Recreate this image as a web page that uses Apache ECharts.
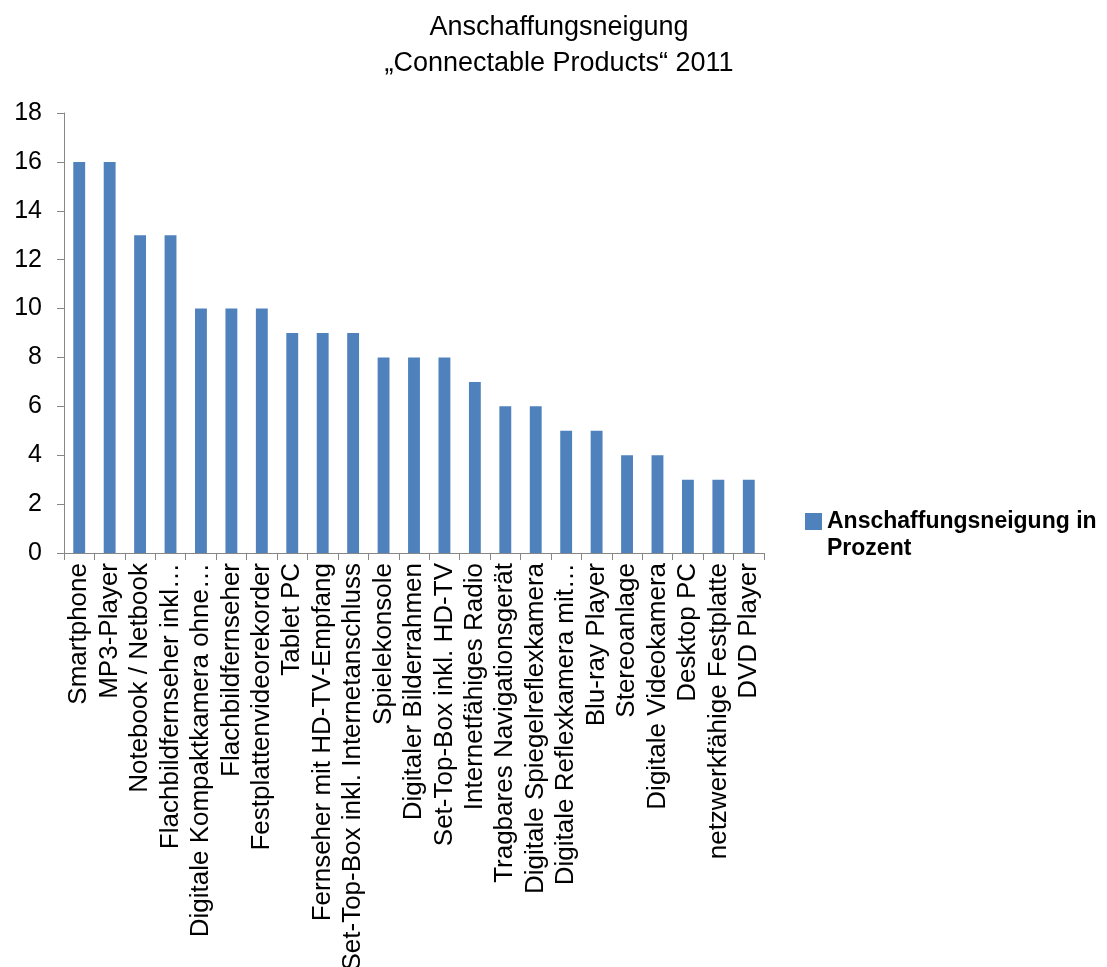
<!DOCTYPE html>
<html>
<head>
<meta charset="utf-8">
<script src="https://cdn.jsdelivr.net/npm/echarts@6/dist/echarts.min.js"></script>
<style>
  html, body { margin: 0; padding: 0; background: #ffffff; }
  #chart { width: 1107px; height: 967px; }
</style>
</head>
<body>
<div id="chart"></div>
<script>
// Product categories, in the order they are shown
const categories = [
  'Smartphone',
  'MP3-Player',
  'Notebook / Netbook',
  'Flachbildfernseher inkl…',
  'Digitale Kompaktkamera ohne…',
  'Flachbildfernseher',
  'Festplattenvideorekorder',
  'Tablet PC',
  'Fernseher mit HD-TV-Empfang',
  'Set-Top-Box inkl. Internetanschluss',
  'Spielekonsole',
  'Digitaler Bilderrahmen',
  'Set-Top-Box inkl. HD-TV',
  'Internetfähiges Radio',
  'Tragbares Navigationsgerät',
  'Digitale Spiegelreflexkamera',
  'Digitale Reflexkamera mit…',
  'Blu-ray Player',
  'Stereoanlage',
  'Digitale Videokamera',
  'Desktop PC',
  'netzwerkfähige Festplatte',
  'DVD Player'
];

// Purchase intention in percent
const anschaffungsneigung = [16, 16, 13, 13, 10, 10, 10, 9, 9, 9, 8, 8, 8, 7, 6, 6, 5, 5, 4, 4, 3, 3, 3];

// Value axis ticks
const yTicks = { min: 0, max: 18, interval: 2 };

const seriesName = 'Anschaffungsneigung in Prozent';
const titleLines = ['Anschaffungsneigung', '„Connectable Products“ 2011'];

const chart = echarts.init(document.getElementById('chart'), null, { renderer: 'canvas' });

const axisGrey = '#868686';
const labelFont = "'Liberation Sans', Arial, sans-serif";

chart.setOption({
  backgroundColor: '#ffffff',
  animation: false,
  title: {
    text: titleLines.join('\n'),
    left: 559,
    top: 10,
    padding: 0,
    textAlign: 'center',
    textStyle: {
      fontFamily: "'Liberation Sans Narrow', 'Liberation Sans', sans-serif",
      fontWeight: 'normal',
      fontSize: 27,
      lineHeight: 36,
      color: '#000000'
    }
  },
  legend: {
    data: [seriesName],
    left: 805,
    top: 508,
    padding: 0,
    orient: 'vertical',
    itemWidth: 17,
    itemHeight: 44,
    // square marker sitting beside the first text line
    icon: 'path://M0 0H17V17H0Z M0 44L0.001 44',
    formatter: () => 'Anschaffungsneigung in\nProzent',
    textStyle: {
      fontFamily: labelFont,
      fontWeight: 'bold',
      fontSize: 23,
      lineHeight: 27,
      color: '#000000'
    }
  },
  grid: {
    left: 64,
    right: 343,
    top: 113,
    bottom: 414,
    containLabel: false,
    // long category names run off the bottom edge; keep the plot area fixed
    outerBoundsMode: 'none'
  },
  xAxis: {
    type: 'category',
    data: categories,
    axisLine: { show: true, lineStyle: { color: axisGrey, width: 1 } },
    axisTick: { show: true, length: 7, lineStyle: { color: axisGrey } },
    axisLabel: {
      interval: 0,
      rotate: 90,
      margin: 10,
      fontFamily: labelFont,
      fontSize: 26,
      color: '#000000'
    },
    splitLine: { show: false }
  },
  yAxis: {
    type: 'value',
    min: yTicks.min,
    max: yTicks.max,
    interval: yTicks.interval,
    axisLine: { show: true, lineStyle: { color: axisGrey, width: 1 } },
    axisTick: { show: true, length: 7, lineStyle: { color: axisGrey } },
    axisLabel: {
      margin: 22,
      fontFamily: labelFont,
      fontSize: 25,
      color: '#000000'
    },
    splitLine: { show: false }
  },
  series: [{
    name: seriesName,
    type: 'bar',
    data: anschaffungsneigung,
    barWidth: '39%',
    itemStyle: { color: '#4F81BD' }
  }]
});
</script>
</body>
</html>
